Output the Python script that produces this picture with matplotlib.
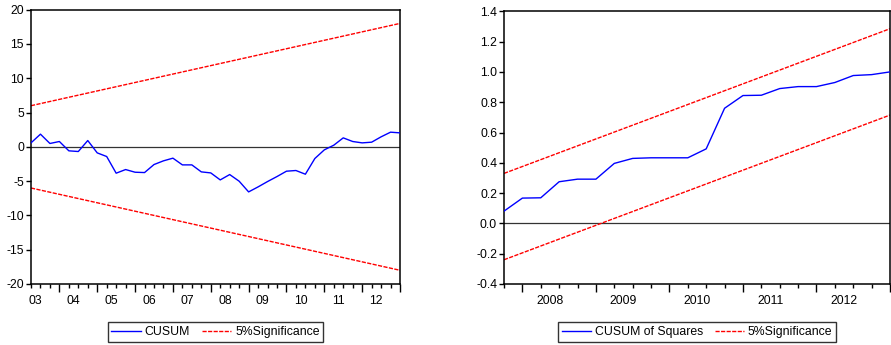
import matplotlib
matplotlib.use("Agg")
import matplotlib.pyplot as plt
from matplotlib.lines import Line2D

plt.rcParams['font.family'] = ['Liberation Sans', 'DejaVu Sans']

# CUSUM, quarterly 2003Q2 - 2013Q1
cusum = [0.58, 1.85, 0.49, 0.78, -0.58, -0.68, 0.92, -0.88, -1.41, -3.84,
         -3.31, -3.70, -3.75, -2.58, -2.04, -1.65, -2.63, -2.63, -3.65, -3.80,
         -4.82, -4.04, -5.01, -6.57, -5.84, -5.06, -4.33, -3.55, -3.45, -3.99,
         -1.70, -0.44, 0.24, 1.31, 0.78, 0.58, 0.68, 1.46, 2.14, 2.04]
cusum_upper = [6.0, 18.0]
cusum_lower = [-6.0, -18.0]
cusum_years = ['03', '04', '05', '06', '07', '08', '09', '10', '11', '12']
cusum_year_start = [-1, 3, 7, 11, 15, 19, 23, 27, 31, 35]

# CUSUM of squares, quarterly 2007Q4 - 2013Q1
cusumsq = [0.081, 0.167, 0.169, 0.275, 0.292, 0.292, 0.396, 0.429, 0.433, 0.433,
           0.433, 0.492, 0.760, 0.844, 0.846, 0.890, 0.903, 0.903, 0.930, 0.976,
           0.982, 1.000]
sq_upper = [0.33, 1.285]
sq_lower = [-0.24, 0.715]
sq_years = ['2008', '2009', '2010', '2011', '2012']
sq_year_start = [1, 5, 9, 13, 17]

blue = '#0000ff'
red = '#ff0000'
fs = 8.8

fig = plt.figure(figsize=(8.91, 3.45), dpi=100)
ax1 = fig.add_axes([31 / 891, 1 - 284 / 345, 369 / 891, 274.3 / 345])
ax2 = fig.add_axes([504 / 891, 1 - 284 / 345, 386 / 891, 272.7 / 345])


def style(ax, year_start, years, major):
    ax.axhline(0, color='#333333', lw=0.9, zorder=1)
    # quarterly minor ticks, yearly major ticks
    ax.set_xticks(major)
    ax.set_xticks(range(int(ax.get_xlim()[1]) + 1), minor=True)
    ax.tick_params(axis='x', which='major', length=6, width=1, labelbottom=False, direction='out')
    ax.tick_params(axis='x', which='minor', length=3, width=1, direction='out')
    ax.tick_params(axis='y', length=3.5, width=1, labelsize=fs, pad=1.5)
    for s, lab in zip(year_start, years):
        ax.text(s + 1.5, -0.04, lab, transform=ax.get_xaxis_transform(),
                ha='center', va='top', fontsize=fs)
    for sp in ax.spines.values():
        sp.set_linewidth(1.1)


n1 = len(cusum)
ax1.plot(range(n1), cusum, color=blue, lw=1.0, zorder=3)
ax1.plot([0, n1 - 1], cusum_upper, color=red, lw=1.0, ls=(0, (3, 1)), zorder=2)
ax1.plot([0, n1 - 1], cusum_lower, color=red, lw=1.0, ls=(0, (3, 1)), zorder=2)
ax1.set_xlim(0, n1 - 1)
ax1.set_ylim(-20, 20)
ax1.set_yticks(range(-20, 21, 5))
ax1.set_yticklabels([str(v) for v in range(-20, 21, 5)])
style(ax1, cusum_year_start, cusum_years, [3, 7, 11, 15, 19, 23, 27, 31, 35, 39])

n2 = len(cusumsq)
ax2.plot(range(n2), cusumsq, color=blue, lw=1.0, zorder=3)
ax2.plot([0, n2 - 1], sq_upper, color=red, lw=1.0, ls=(0, (3, 1)), zorder=2)
ax2.plot([0, n2 - 1], sq_lower, color=red, lw=1.0, ls=(0, (3, 1)), zorder=2)
ax2.set_xlim(0, n2 - 1)
ax2.set_ylim(-0.4, 1.4)
ticks2 = [-0.4, -0.2, 0.0, 0.2, 0.4, 0.6, 0.8, 1.0, 1.2, 1.4]
ax2.set_yticks(ticks2)
ax2.set_yticklabels(['%.1f' % v for v in ticks2])
style(ax2, sq_year_start, sq_years, [1, 5, 9, 13, 17, 21])

h1 = [Line2D([], [], color=blue, lw=1.0), Line2D([], [], color=red, lw=1.0, ls=(0, (3, 1)))]
leg1 = fig.legend(h1, ['CUSUM', '5%Significance'], loc='center',
                  bbox_to_anchor=(215.5 / 891, 1 - 332 / 345), ncol=2, fontsize=fs,
                  frameon=True, fancybox=False, edgecolor='black', handlelength=2.4,
                  handletextpad=0.3, columnspacing=1.0, borderpad=0.3)
leg1.get_frame().set_linewidth(1.0)
leg2 = fig.legend(h1, ['CUSUM of Squares', '5%Significance'], loc='center',
                  bbox_to_anchor=(697 / 891, 1 - 332 / 345), ncol=2, fontsize=fs,
                  frameon=True, fancybox=False, edgecolor='black', handlelength=2.4,
                  handletextpad=0.3, columnspacing=1.0, borderpad=0.3)
leg2.get_frame().set_linewidth(1.0)

fig.savefig('out.png', dpi=100)
